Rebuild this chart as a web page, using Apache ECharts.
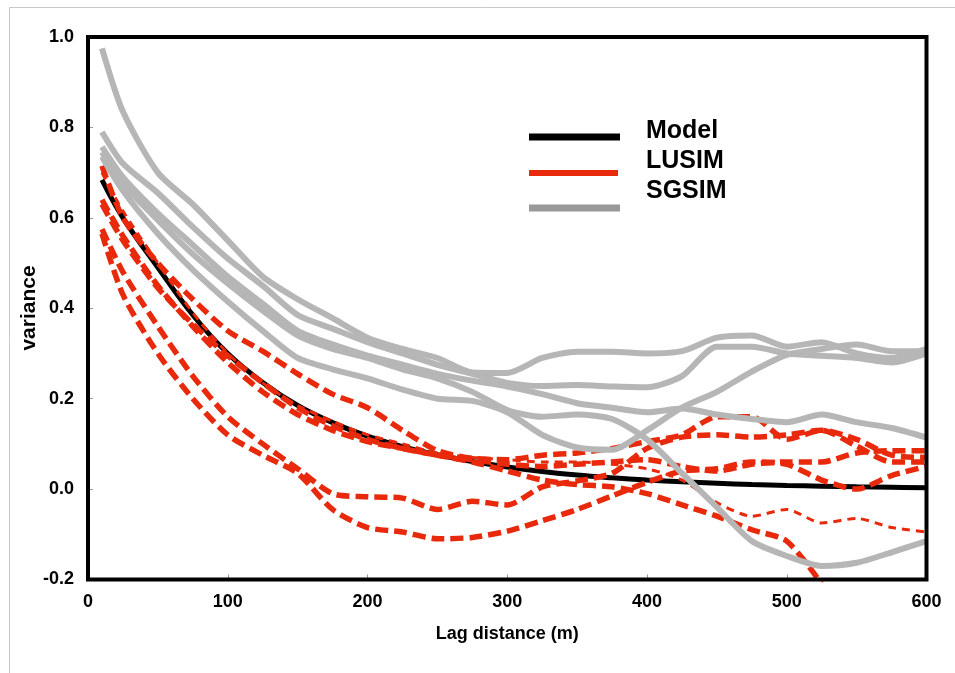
<!DOCTYPE html>
<html>
<head>
<meta charset="utf-8">
<script src="https://cdn.jsdelivr.net/npm/echarts@6/dist/echarts.min.js"></script>
<style>
html,body{margin:0;padding:0;background:#fff;}
#chart{width:955px;height:673px;}
</style>
</head>
<body>
<div id="chart"></div>
<script>
// ---- data ----
const lagValues = [10,25,50,75,100,125,150,175,200,225,250,275,300,325,350,375,400,425,450,475,500,525,550,575,600];
const xTicks = [0,100,200,300,400,500,600];
const yTicks = [-0.2,0.0,0.2,0.4,0.6,0.8,1.0];

const modelValues = [0.684,0.60,0.49,0.385,0.30,0.236,0.185,0.147,0.117,0.094,0.076,0.061,0.049,0.039,0.031,0.025,0.020,0.016,0.013,0.010,0.008,0.0065,0.005,0.004,0.003];

const lusim1 = [0.715,0.60,0.50,0.42,0.35,0.305,0.255,0.21,0.18,0.13,0.085,0.068,0.065,0.075,0.08,0.09,0.105,0.12,0.16,0.16,0.11,0.13,0.095,0.06,0.06];
const lusim2 = [0.70,0.615,0.50,0.39,0.30,0.235,0.185,0.15,0.12,0.10,0.08,0.07,0.065,0.06,0.06,0.055,0.045,0.02,-0.03,-0.06,-0.045,-0.075,-0.065,-0.085,-0.095];
const lusim3 = [0.64,0.56,0.45,0.36,0.28,0.215,0.165,0.13,0.105,0.09,0.075,0.06,0.04,0.02,0.01,0.005,-0.01,-0.035,-0.06,-0.09,-0.115,-0.21,null,null,null];
const lusim4 = [0.63,0.55,0.445,0.365,0.295,0.235,0.18,0.14,0.11,0.09,0.075,0.065,0.055,0.05,0.055,0.06,0.065,0.05,0.04,0.055,0.06,0.06,0.08,0.085,0.085];
const lusim5 = [0.575,0.48,0.36,0.25,0.16,0.10,0.045,-0.01,-0.017,-0.02,-0.045,-0.027,-0.035,0.005,0.018,0.035,0.09,0.115,0.12,0.115,0.12,0.13,0.11,0.075,0.07];
const lusim6 = [0.565,0.43,0.30,0.20,0.12,0.075,0.035,-0.045,-0.085,-0.095,-0.11,-0.107,-0.093,-0.07,-0.045,-0.015,0.015,0.04,0.045,0.06,0.055,0.02,0.0,0.03,0.05];

const sgsim1 = [0.975,0.835,0.70,0.63,0.55,0.47,0.42,0.378,0.335,0.31,0.29,0.258,0.257,0.29,0.304,0.304,0.30,0.305,0.335,0.34,0.315,0.325,0.30,0.29,0.31];
const sgsim2 = [0.79,0.72,0.655,0.58,0.51,0.45,0.385,0.355,0.325,0.30,0.275,0.255,0.235,0.228,0.23,0.227,0.225,0.25,0.315,0.315,0.30,0.295,0.29,0.28,0.30];
const sgsim3 = [0.757,0.69,0.61,0.54,0.47,0.41,0.35,0.32,0.295,0.275,0.255,0.24,0.227,0.21,0.19,0.18,0.17,0.178,0.165,0.155,0.148,0.165,0.148,0.135,0.114];
const sgsim4 = [0.745,0.675,0.595,0.52,0.455,0.395,0.34,0.31,0.29,0.265,0.245,0.215,0.175,0.16,0.165,0.155,0.11,0.035,-0.04,-0.115,-0.148,-0.17,-0.163,-0.14,-0.115];
const sgsim5 = [0.735,0.66,0.565,0.485,0.415,0.35,0.29,0.265,0.245,0.22,0.20,0.195,0.17,0.12,0.092,0.087,0.13,0.18,0.215,0.26,0.297,0.31,0.32,0.305,0.305];

const legendNames = ['Model','LUSIM','SGSIM'];
const xTitle = 'Lag distance (m)';
const yTitle = 'variance';

// ---- chart ----
const FONT = 'Liberation Sans, Arial, sans-serif';
const RED = '#e8290b';
const GREY = '#b6b6b6';
const pair = arr => lagValues.map((x,i) => [x, arr[i]]);

const chart = echarts.init(document.getElementById('chart'), null, {renderer:'canvas'});

const lusimSets = [lusim1, lusim2, lusim3, lusim4, lusim5, lusim6];
const sgsimSets = [sgsim1, sgsim2, sgsim3, sgsim4, sgsim5];

const series = [];
series.push({
  name: 'Model', type: 'line', data: pair(modelValues), showSymbol: false, smooth: 0.4, z: 2,
  lineStyle: {color: '#000', width: 5}
});
lusimSets.forEach((arr, k) => {
  const thin = (k === 1);
  series.push({
    name: 'LUSIM', type: 'line', data: pair(arr), showSymbol: false, smooth: 0.25,
    connectNulls: false, z: 3,
    lineStyle: {color: RED, width: thin ? 3 : 5.5, type: thin ? [8,6] : [13,6], cap: 'butt'}
  });
});
sgsimSets.forEach(arr => {
  series.push({
    name: 'SGSIM', type: 'line', data: pair(arr), showSymbol: false, smooth: 0.25, z: 4,
    lineStyle: {color: GREY, width: 6}
  });
});

const option = {
  animation: false,
  backgroundColor: '#fff',
  grid: {left: 88, top: 37, right: 28.5, bottom: 93.5, show: true, borderColor: '#000', borderWidth: 4, backgroundColor: 'transparent', z: 10},
  xAxis: {
    type: 'value', min: xTicks[0], max: xTicks[xTicks.length-1], interval: 100,
    name: xTitle, nameLocation: 'middle', nameGap: 46,
    nameTextStyle: {fontFamily: FONT, fontWeight: 'bold', fontSize: 18, color: '#000'},
    axisLine: {show: false, onZero: false},
    axisTick: {show: true, inside: true, length: 5, lineStyle: {color: '#999', width: 1}},
    axisLabel: {fontFamily: FONT, fontWeight: 'bold', fontSize: 18, color: '#000', margin: 14},
    splitLine: {show: false}
  },
  yAxis: {
    type: 'value', min: yTicks[0], max: yTicks[yTicks.length-1], interval: 0.2,
    axisLine: {show: false, onZero: false},
    axisTick: {show: true, inside: true, length: 5, lineStyle: {color: '#999', width: 1}},
    axisLabel: {fontFamily: FONT, fontWeight: 'bold', fontSize: 18, color: '#000', margin: 14,
      formatter: v => (Math.abs(v) < 1e-9 ? 0 : v).toFixed(1)},
    splitLine: {show: false}
  },
  series: series,
  graphic: [
    {type: 'rect', z: 0, shape: {x: 9.5, y: 7.5, width: 1000, height: 1000}, style: {fill: 'none', stroke: '#c8c8c8', lineWidth: 1}},
    {type: 'text', z: 20, x: 29, y: 308, rotation: Math.PI / 2, style: {text: yTitle, font: 'bold 21px ' + FONT, fill: '#000', align: 'center', verticalAlign: 'middle'}},
    {type: 'line', z: 20, shape: {x1: 529, y1: 137, x2: 620, y2: 137}, style: {stroke: '#000', lineWidth: 7}},
    {type: 'line', z: 20, shape: {x1: 529, y1: 173, x2: 618, y2: 173}, style: {stroke: RED, lineWidth: 6}},
    {type: 'line', z: 20, shape: {x1: 529, y1: 208, x2: 620, y2: 208}, style: {stroke: '#999', lineWidth: 7}},
    {type: 'text', z: 20, x: 646, y: 131, style: {text: legendNames[0], font: 'bold 25px ' + FONT, fill: '#000', verticalAlign: 'middle'}},
    {type: 'text', z: 20, x: 646, y: 161, style: {text: legendNames[1], font: 'bold 25px ' + FONT, fill: '#000', verticalAlign: 'middle'}},
    {type: 'text', z: 20, x: 646, y: 191, style: {text: legendNames[2], font: 'bold 25px ' + FONT, fill: '#000', verticalAlign: 'middle'}}
  ]
};
chart.setOption(option);
</script>
</body>
</html>
